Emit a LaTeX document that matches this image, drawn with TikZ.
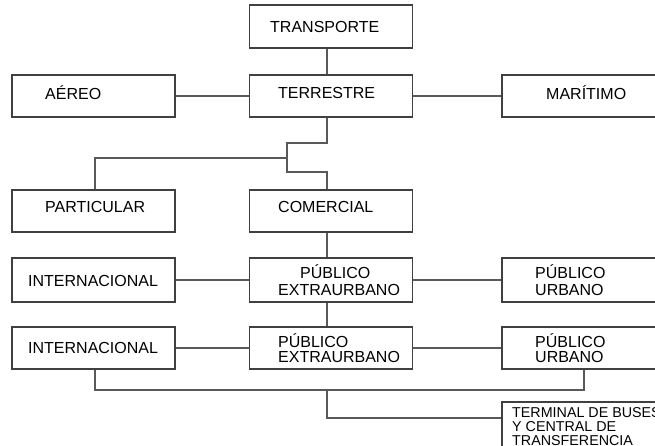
\documentclass[tikz,border=0pt]{standalone}
\usepackage{fontspec}
\setmainfont{Liberation Sans}
\begin{document}
\begin{tikzpicture}[x=1pt,y=-1pt,
 box/.style={draw=black!75, line width=1.1pt, minimum width=163pt, minimum height=43pt, inner sep=0pt},
 lbl/.style={anchor=base west, inner sep=0pt, font=\fontsize{16}{17}\selectfont, text=black},
 small/.style={anchor=base west, inner sep=0pt, font=\fontsize{14.3}{14}\selectfont, text=black},
 conn/.style={draw=black!65, line width=1.2pt}]
\useasboundingbox (0,0) rectangle (655,446);
\clip (0,0) rectangle (655,446);
\fill[white] (0,0) rectangle (655,446);
% boxes
\node[box] (trans) at (331,26.5) {};
\node[box, minimum height=42pt] (aereo) at (93.5,96) {};
\node[box, minimum height=42pt] (terr) at (331,96) {};
\node[box, minimum height=42pt] (mar) at (583.5,96) {};
\node[box, minimum height=42pt] (part) at (93.5,211) {};
\node[box, minimum height=42pt] (com) at (331,211) {};
\node[box, minimum height=44pt] (int3) at (93.5,280) {};
\node[box, minimum height=44pt] (pe3) at (331,280) {};
\node[box, minimum height=44pt] (pu3) at (583.5,280) {};
\node[box, minimum height=42pt] (int4) at (93.5,348) {};
\node[box, minimum height=42pt] (pe4) at (331,348) {};
\node[box, minimum height=42pt] (pu4) at (583.5,348) {};
\node[box, minimum height=58pt] (term) at (583.5,431) {};
% axis coordinates
\coordinate (ax) at (327,0);
\coordinate (lx) at (95,0);
\coordinate (rx) at (584,0);
\coordinate (j1) at (327,143);
\coordinate (j2) at (287,143);
\coordinate (j3) at (287,172);
\coordinate (j4) at (327,172);
\coordinate (j5) at (287,158);
\coordinate (j6) at (95,158);
\coordinate (k1) at (95,390);
\coordinate (k2) at (584,390);
\coordinate (k3) at (327,390);
\coordinate (k4) at (327,418);
% connectors
\draw[conn] (ax |- trans.south) -- (ax |- terr.north);
\draw[conn] (aereo.east) -- (terr.west);
\draw[conn] (terr.east) -- (mar.west);
\draw[conn] (ax |- terr.south) -- (j1) -- (j2) -- (j3) -- (j4) -- (ax |- com.north);
\draw[conn] (j5) -- (j6) -- (lx |- part.north);
\draw[conn] (ax |- com.south) -- (ax |- pe3.north);
\draw[conn] (int3.east) -- (pe3.west);
\draw[conn] (pe3.east) -- (pu3.west);
\draw[conn] (ax |- pe3.south) -- (ax |- pe4.north);
\draw[conn] (int4.east) -- (pe4.west);
\draw[conn] (pe4.east) -- (pu4.west);
\draw[conn] (lx |- int4.south) -- (k1) -- (k2) -- (rx |- pu4.south);
\draw[conn] (k3) -- (k4) -- (k4 -| term.west);
% texts
\node[lbl] at (270,33) {TRANSPORTE};
\node[lbl] at (45,100) {AÉREO};
\node[lbl] at (278,99) {TERRESTRE};
\node[lbl] at (546,100) {MARÍTIMO};
\node[lbl] at (45,213) {PARTICULAR};
\node[lbl] at (278,213) {COMERCIAL};
\node[lbl] at (28,286) {INTERNACIONAL};
\node[lbl] at (300,278) {PÚBLICO};
\node[lbl] at (278,295) {EXTRAURBANO};
\node[lbl] at (535,278) {PÚBLICO};
\node[lbl] at (535,295) {URBANO};
\node[lbl] at (28,353) {INTERNACIONAL};
\node[lbl] at (278,347) {PÚBLICO};
\node[lbl] at (278,362) {EXTRAURBANO};
\node[lbl] at (535,347) {PÚBLICO};
\node[lbl] at (535,362) {URBANO};
\node[small] at (512,417) {TERMINAL DE BUSES};
\node[small] at (512,431) {Y CENTRAL DE};
\node[small] at (512,445) {TRANSFERENCIA};
\end{tikzpicture}
\end{document}
